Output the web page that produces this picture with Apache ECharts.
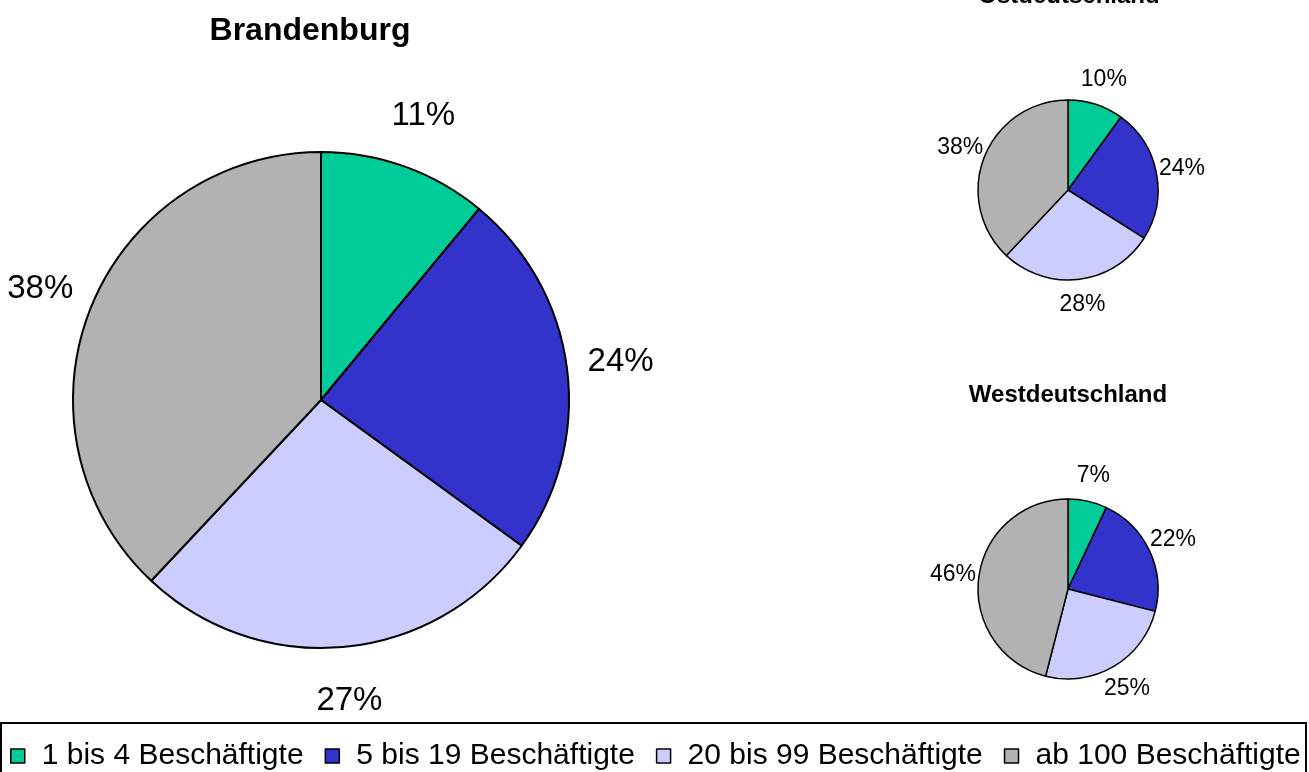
<!DOCTYPE html>
<html>
<head>
<meta charset="utf-8">
<title>Betriebsgrößen</title>
<script src="https://cdn.jsdelivr.net/npm/echarts@6.0.0/dist/echarts.min.js"></script>
<style>
  html, body { margin: 0; padding: 0; background: #fff; }
  #main { width: 1309px; height: 772px; }
</style>
</head>
<body>
<div id="main"></div>
<script>
// Betriebe nach Beschäftigtengröße (Anteil in %)
const categories = ['1 bis 4 Beschäftigte', '5 bis 19 Beschäftigte', '20 bis 99 Beschäftigte', 'ab 100 Beschäftigte'];
const brandenburg = [11, 24, 27, 38];
const ostdeutschland = [10, 24, 28, 38];
const westdeutschland = [7, 22, 25, 46];
const colors = ['#00CC99', '#3333CC', '#CCCCFF', '#B2B2B2'];

const font = '"Liberation Sans", Arial, sans-serif';

function toData(values) {
  return values.map(function (v, i) {
    return { name: categories[i], value: v };
  });
}

// echter Kreis
function pieSeries(values, center, radius, border) {
  return {
    type: 'pie',
    center: center,
    radius: radius,
    startAngle: 90,
    clockwise: true,
    silent: true,
    label: { show: false },
    labelLine: { show: false },
    itemStyle: { borderColor: '#000', borderWidth: border },
    emphasis: { disabled: true },
    data: toData(values)
  };
}

// unsichtbarer Ring nur für die Prozentbeschriftung außen
function labelRing(values, center, radius, size) {
  return {
    type: 'pie',
    center: center,
    radius: radius,
    startAngle: 90,
    clockwise: true,
    silent: true,
    itemStyle: { color: 'rgba(0,0,0,0)', borderWidth: 0 },
    label: {
      show: true,
      position: 'inside',
      formatter: '{c}%',
      color: '#000',
      fontFamily: font,
      fontSize: size
    },
    labelLine: { show: false },
    emphasis: { disabled: true },
    data: toData(values)
  };
}

const chart = echarts.init(document.getElementById('main'), null, { renderer: 'canvas' });

const option = {
  backgroundColor: '#fff',
  color: colors,
  animation: false,
  title: [
    {
      text: 'Brandenburg', left: 310, top: 15, padding: 0, textAlign: 'center',
      textStyle: { fontFamily: font, fontSize: 32, fontWeight: 'bold', color: '#000' }
    },
    {
      text: 'Ostdeutschland', left: 1069, top: -16, padding: 0, textAlign: 'center',
      textStyle: { fontFamily: font, fontSize: 24, fontWeight: 'bold', color: '#000' }
    },
    {
      text: 'Westdeutschland', left: 1068, top: 383, padding: 0, textAlign: 'center',
      textStyle: { fontFamily: font, fontSize: 24, fontWeight: 'bold', color: '#000' }
    }
  ],
  legend: {
    data: categories,
    left: 10,
    top: 741,
    width: 1299,
    padding: 0,
    orient: 'horizontal',
    icon: 'rect',
    itemWidth: 14,
    itemHeight: 14,
    itemGap: 21,
    selectedMode: false,
    itemStyle: { borderColor: '#000', borderWidth: 1.5 },
    textStyle: { fontFamily: font, fontSize: 30, color: '#000', padding: [0, 0, 0, 12] }
  },
  graphic: [
    {
      type: 'rect',
      shape: { x: 1, y: 723, width: 1305, height: 80 },
      style: { fill: 'none', stroke: '#000', lineWidth: 2 },
      silent: true
    }
  ],
  series: [
    pieSeries(brandenburg, [321, 400], 248, 2),
    pieSeries(ostdeutschland, [1068, 190], 90, 1.5),
    pieSeries(westdeutschland, [1068, 589], 90, 1.5),
    labelRing(brandenburg, [321, 400], [248, 350], 33),
    labelRing(ostdeutschland, [1068, 190], [90, 136], 23),
    labelRing(westdeutschland, [1068, 589], [90, 136], 23)
  ]
};

chart.setOption(option);
</script>
</body>
</html>
